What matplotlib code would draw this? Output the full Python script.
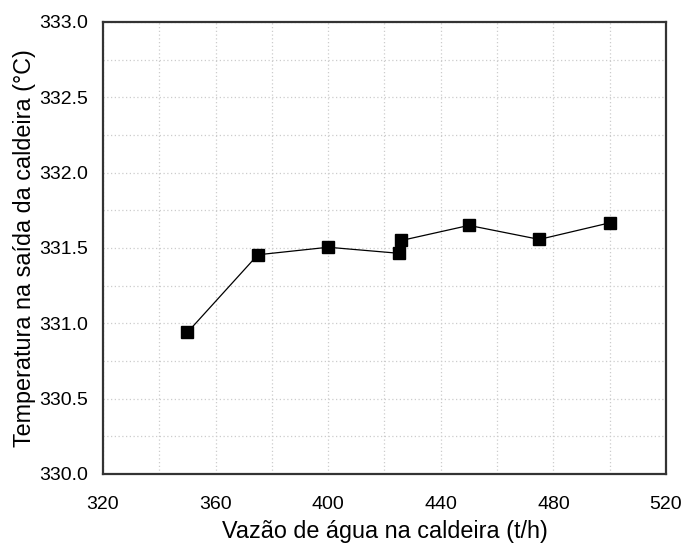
import matplotlib
matplotlib.use("Agg")
import matplotlib.pyplot as plt
from matplotlib.ticker import MultipleLocator

plt.rcParams['font.family'] = ['Liberation Sans', 'DejaVu Sans']

# Boiler water flow (t/h) vs. boiler outlet temperature (°C)
vazao = [350, 375, 400, 425, 426, 450, 475, 500]
temperatura = [330.94, 331.455, 331.505, 331.465, 331.55, 331.65, 331.557, 331.667]

x_ticks = [320, 360, 400, 440, 480, 520]
y_ticks = [330.0, 330.5, 331.0, 331.5, 332.0, 332.5, 333.0]

fig = plt.figure(figsize=(6.82, 5.45), dpi=100)
ax = fig.add_axes([103 / 682, 1 - 474 / 545, (666 - 103) / 682, (474 - 22) / 545])

ax.plot(vazao, temperatura, color='black', linewidth=0.9, marker='s',
        markersize=8, markerfacecolor='black', markeredgecolor='black', zorder=3)

ax.set_xlim(320, 520)
ax.set_ylim(330.0, 333.0)
ax.set_xticks(x_ticks)
ax.set_yticks(y_ticks)
ax.set_yticklabels([f"{v:.1f}" for v in y_ticks])
ax.xaxis.set_minor_locator(MultipleLocator(20))
ax.yaxis.set_minor_locator(MultipleLocator(0.25))

ax.grid(which='both', color='#cccccc', linestyle=(0, (1, 2)), linewidth=0.9)
ax.set_axisbelow(True)

ax.tick_params(which='both', length=0)
ax.tick_params(axis='x', labelsize=14, pad=16)
ax.tick_params(axis='y', labelsize=14, pad=11)

for sp in ax.spines.values():
    sp.set_color('#333333')
    sp.set_linewidth(1.6)

ax.set_xlabel('Vazão de água na caldeira (t/h)', fontsize=16.8, labelpad=5)
ax.set_ylabel('Temperatura na saída da caldeira (°C)', fontsize=16.8, labelpad=2)

fig.savefig('out.png', dpi=100)
